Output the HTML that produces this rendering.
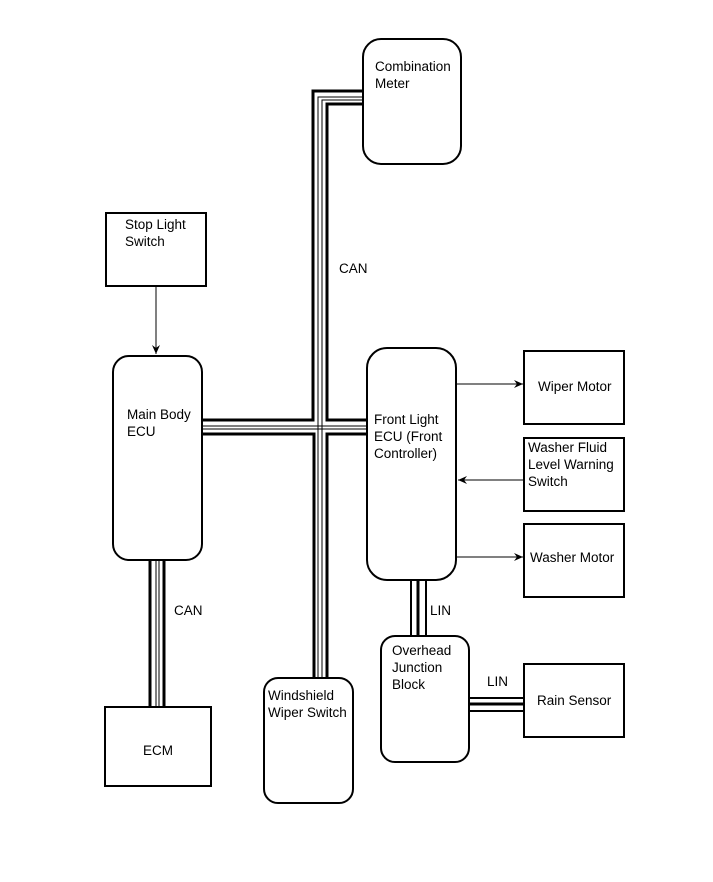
<!DOCTYPE html>
<html><head><style>
html,body{margin:0;padding:0;background:#fff;}
svg{display:block;}
text{font-family:"Liberation Sans",Arial,sans-serif;font-size:13.5px;fill:#000;}
</style></head><body>
<svg width="713" height="882" viewBox="0 0 713 882" xmlns="http://www.w3.org/2000/svg">
<defs>
<marker id="ah" markerWidth="10" markerHeight="10" refX="9" refY="5" orient="auto" markerUnits="userSpaceOnUse">
<path d="M0,1 L9,5 L0,9 L3,5 Z" fill="#000"/>
</marker>
</defs>
<g fill="none" stroke="#000">
<polyline stroke-width="3" points="363,91 313,91 313,420 202,420"/>
<polyline stroke-width="3" points="363,104 327,104 327,420 367,420"/>
<polyline stroke-width="1" points="363,97 318,97 318,678"/>
<polyline stroke-width="1" points="363,100 322,100 322,678"/>
<line stroke-width="1" x1="202" y1="426" x2="367" y2="426"/>
<line stroke-width="1" x1="202" y1="429" x2="367" y2="429"/>
<polyline stroke-width="3" points="202,434 314,434 314,678"/>
<polyline stroke-width="3" points="367,434 327,434 327,678"/>
<line stroke-width="3" x1="150" y1="560" x2="150" y2="707"/>
<line stroke-width="1" x1="156" y1="560" x2="156" y2="707"/>
<line stroke-width="1" x1="159" y1="560" x2="159" y2="707"/>
<line stroke-width="3" x1="164" y1="560" x2="164" y2="707"/>
<line stroke-width="2" x1="411" y1="580" x2="411" y2="636"/>
<line stroke-width="3" x1="418" y1="580" x2="418" y2="636"/>
<line stroke-width="2" x1="426" y1="580" x2="426" y2="636"/>
<line stroke-width="2" x1="469" y1="698" x2="524" y2="698"/>
<line stroke-width="3" x1="469" y1="704" x2="524" y2="704"/>
<line stroke-width="2" x1="469" y1="711" x2="524" y2="711"/>
<g stroke-width="2" fill="#fff">
<rect x="363" y="39" width="98" height="125" rx="18"/>
<rect x="106" y="213" width="100" height="73"/>
<rect x="113" y="356" width="89" height="204" rx="16"/>
<rect x="367" y="348" width="89" height="232" rx="20"/>
<rect x="524" y="351" width="100" height="73"/>
<rect x="524" y="438" width="100" height="73"/>
<rect x="524" y="524" width="100" height="73"/>
<rect x="381" y="636" width="88" height="126" rx="14"/>
<rect x="524" y="664" width="100" height="73"/>
<rect x="105" y="707" width="106" height="79"/>
<rect x="264" y="678" width="89" height="125" rx="14"/>
</g>
<line stroke-width="1" x1="156" y1="286" x2="156" y2="354" marker-end="url(#ah)"/>
<line stroke-width="1" x1="456" y1="384" x2="523" y2="384" marker-end="url(#ah)"/>
<line stroke-width="1" x1="524" y1="480" x2="458" y2="480" marker-end="url(#ah)"/>
<line stroke-width="1" x1="456" y1="557" x2="523" y2="557" marker-end="url(#ah)"/>
</g>
<text x="375" y="71">Combination</text>
<text x="375" y="88">Meter</text>
<text x="125" y="229">Stop Light</text>
<text x="125" y="246">Switch</text>
<text x="339" y="273">CAN</text>
<text x="127" y="419">Main Body</text>
<text x="127" y="436">ECU</text>
<text x="374" y="424">Front Light</text>
<text x="374" y="441">ECU (Front</text>
<text x="374" y="458">Controller)</text>
<text x="538" y="391">Wiper Motor</text>
<text x="528" y="452">Washer Fluid</text>
<text x="528" y="469">Level Warning</text>
<text x="528" y="486">Switch</text>
<text x="530" y="562">Washer Motor</text>
<text x="174" y="615">CAN</text>
<text x="430" y="615">LIN</text>
<text x="392" y="655">Overhead</text>
<text x="392" y="672">Junction</text>
<text x="392" y="689">Block</text>
<text x="487" y="686">LIN</text>
<text x="537" y="705">Rain Sensor</text>
<text x="143" y="755">ECM</text>
<text x="268" y="700">Windshield</text>
<text x="268" y="717">Wiper Switch</text>
</svg>
</body></html>
